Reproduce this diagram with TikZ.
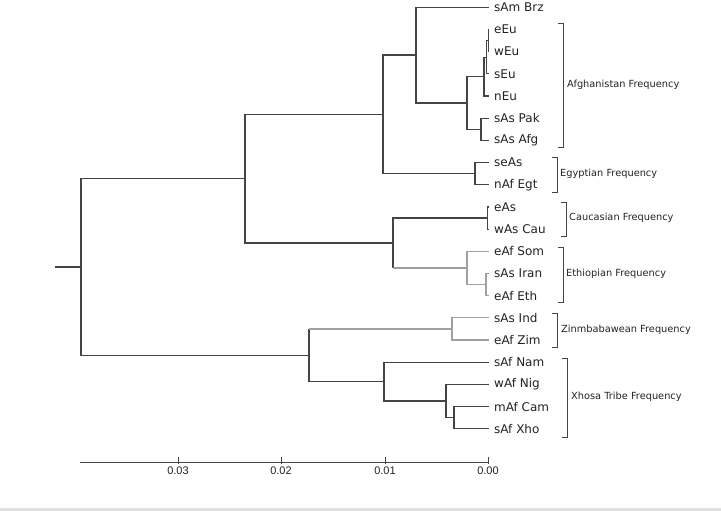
\documentclass[tikz,border=0pt]{standalone}
\usepackage{fontspec}
\newfontfamily\djfont{DejaVu Sans}
\newfontfamily\libfont{Liberation Sans}
\definecolor{dk}{HTML}{444444}
\definecolor{lt}{HTML}{A0A0A0}
\definecolor{tx}{HTML}{222222}
\begin{document}
\begin{tikzpicture}[x=1pt,y=-1pt,
  br/.style={draw=dk,line width=1.2pt},
  brl/.style={draw=lt,line width=1.2pt},
  leaf/.style={anchor=west,inner xsep=5pt,inner ysep=0pt,text=tx,font=\djfont\fontsize{12}{12}\selectfont},
  grp/.style={anchor=west,inner sep=0pt,text=tx,font=\djfont\fontsize{9.8}{10}\selectfont},
  tick/.style={inner sep=0pt,text=tx,font=\libfont\fontsize{11}{11}\selectfont},
  brk/.style={draw=dk,line width=1pt}]
\useasboundingbox (0,0) rectangle (721,511);
\fill[black!12] (0,507.5) rectangle (721,511);
% leaves
\foreach \i/\t in {0/sAm Brz,1/eEu,2/wEu,3/sEu,4/nEu,5/sAs Pak,6/sAs Afg,7/seAs,8/nAf Egt,9/eAs,10/wAs Cau,11/eAf Som,12/sAs Iran,13/eAf Eth,14/sAs Ind,15/eAf Zim,16/sAf Nam,17/wAf Nig,18/mAf Cam,19/sAf Xho}
  \node[leaf] (L\i) at (489,{7.3+22.18*\i}) {\t};
% junctions
\coordinate (ja) at (488.3,40.6);
\coordinate (jb) at (486.5,57.2);
\coordinate (jc) at (484,76.6);
\coordinate (jd) at (481,129.3);
\coordinate (je) at (467,103);
\coordinate (jf) at (416,55.1);
\coordinate (jg) at (475,173.6);
\coordinate (jh) at (383,114.4);
\coordinate (ji) at (487.5,218);
\coordinate (jj) at (486,284.6);
\coordinate (jk) at (467,268);
\coordinate (jl) at (393,243);
\coordinate (jm) at (245,178.7);
\coordinate (jn) at (452,328.9);
\coordinate (jo) at (454,417.6);
\coordinate (jp) at (446,401);
\coordinate (jq) at (384,381.6);
\coordinate (jr) at (309,355.2);
\coordinate (root) at (81,267);
\coordinate (stub) at (55,267);
% dark edges
\foreach \p/\c in {ja/L1.west,ja/L2.west,jb/ja,jb/L3.west,jc/jb,jc/L4.west,jd/L5.west,jd/L6.west,je/jc,je/jd,jf/L0.west,jf/je,jg/L7.west,jg/L8.west,jh/jf,jh/jg,ji/L9.west,ji/L10.west,jl/ji,jm/jh,jm/jl,jo/L18.west,jo/L19.west,jp/L17.west,jp/jo,jq/L16.west,jq/jp,jr/jq,root/jm,root/jr}
  \draw[br] (\p) |- (\c);
% light edges (Ethiopian, Zimbabwean)
\foreach \p/\c in {jj/L12.west,jj/L13.west,jk/L11.west,jk/jj,jn/L14.west,jn/L15.west}
  \draw[brl] (\p) |- (\c);
\draw[br] (jl) -- (jl |- jk);
\draw[brl] (jl |- jk) -- (jk);
\draw[br] (jr) -- (jr |- jn);
\draw[brl] (jr |- jn) -- (jn);
\draw[br] (stub) -- (root);
% brackets
\draw[brk] (558,24) -- (563,24) -- (563,147) -- (558,147);
\node[grp] (gA) at (567,85) {Afghanistan Frequency};
\draw[brk] (552,157) -- (557,157) -- (557,192) -- (552,192);
\node[grp] (gE) at (560,173.5) {Egyptian Frequency};
\draw[brk] (561,202) -- (566,202) -- (566,236) -- (561,236);
\node[grp] (gC) at (569,218) {Caucasian Frequency};
\draw[brk] (558,247) -- (563,247) -- (563,302) -- (558,302);
\node[grp] (gT) at (566,274) {Ethiopian Frequency};
\draw[brk] (552,313) -- (557,313) -- (557,347) -- (552,347);
\node[grp] (gZ) at (561,329.5) {Zinmbabawean Frequency};
\draw[brk] (562,358) -- (567,358) -- (567,437) -- (562,437);
\node[grp] (gX) at (571,397) {Xhosa Tribe Frequency};
% axis
\coordinate (ax0) at (80,462);
\coordinate (ax1) at (488,462);
\draw[dk,line width=1pt] (ax0) -- (ax1);
\foreach \x/\t/\n in {178/0.03/a,281/0.02/b,385/0.01/c,488/0.00/d}{
  \draw[dk,line width=1pt] (\x,457) -- (\x,464);
  \node[tick] (T\n) at (\x,470.5) {\t};
}
\end{tikzpicture}
\end{document}
